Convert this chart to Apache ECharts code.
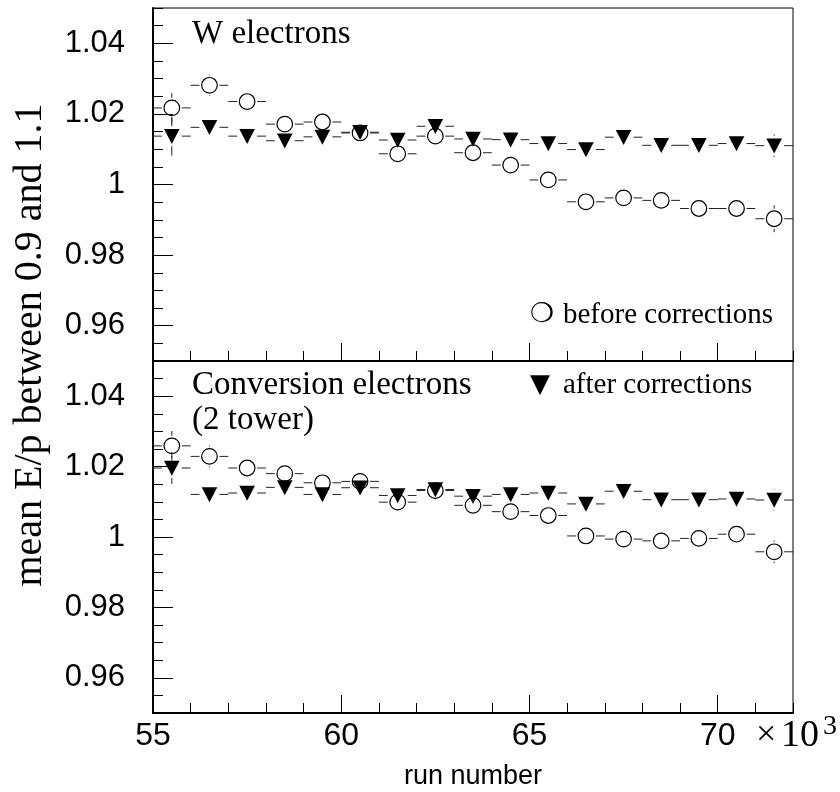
<!DOCTYPE html>
<html>
<head>
<meta charset="utf-8">
<script src="https://cdn.jsdelivr.net/npm/echarts@6/dist/echarts.min.js"></script>
<style>
  html, body { margin: 0; padding: 0; background: #fff; }
  #chart { width: 840px; height: 792px; }
</style>
</head>
<body>
<div id="chart"></div>
<script>
// run number bins (x 10^3), centre of each bin
const runBins = [55.5, 56.5, 57.5, 58.5, 59.5, 60.5, 61.5, 62.5, 63.5, 64.5, 65.5, 66.5, 67.5, 68.5, 69.5, 70.5, 71.5];
const binHalfWidth = 0.5;

// W electrons
const wBefore = [1.0217, 1.0281, 1.0235, 1.0171, 1.0177, 1.0146, 1.0087, 1.0137, 1.0090, 1.0055, 1.0013, 0.9951, 0.9962, 0.9955, 0.9932, 0.9932, 0.9903];
const wBeforeErr = [0.0042, 0.0030, 0.0024, 0.0022, 0.0022, 0.0022, 0.0022, 0.0022, 0.0022, 0.0022, 0.0022, 0.0022, 0.0022, 0.0022, 0.0024, 0.0024, 0.0038];
const wAfter = [1.0137, 1.0162, 1.0137, 1.0124, 1.0135, 1.0148, 1.0126, 1.0165, 1.0129, 1.0127, 1.0116, 1.0099, 1.0134, 1.0111, 1.0111, 1.0116, 1.0110];
const wAfterErr = [0.0055, 0.0024, 0.0022, 0.0022, 0.0022, 0.0022, 0.0022, 0.0022, 0.0022, 0.0022, 0.0022, 0.0022, 0.0022, 0.0022, 0.0022, 0.0024, 0.0032];

// conversion electrons (2 tower)
const convBefore = [1.0259, 1.0229, 1.0196, 1.0180, 1.0154, 1.0158, 1.0099, 1.0132, 1.0090, 1.0072, 1.0061, 1.0003, 0.9994, 0.9989, 0.9996, 1.0008, 0.9958];
const convBeforeErr = [0.0042, 0.0031, 0.0022, 0.0022, 0.0022, 0.0022, 0.0022, 0.0022, 0.0022, 0.0022, 0.0022, 0.0022, 0.0022, 0.0022, 0.0022, 0.0024, 0.0032];
const convAfter = [1.0196, 1.0121, 1.0125, 1.0141, 1.0121, 1.0140, 1.0118, 1.0135, 1.0116, 1.0121, 1.0125, 1.0094, 1.0130, 1.0106, 1.0106, 1.0108, 1.0105];
const convAfterErr = [0.0045, 0.0022, 0.0022, 0.0022, 0.0022, 0.0022, 0.0022, 0.0022, 0.0022, 0.0022, 0.0022, 0.0022, 0.0022, 0.0022, 0.0022, 0.0022, 0.0030];

// axes
const xMin = 55, xMax = 72;
const xTickValues = [55, 60, 65, 70];
const yMin = 0.95, yMax = 1.05;
const yTickValues = [0.96, 0.98, 1, 1.02, 1.04];

const SANS = '"Liberation Sans", Arial, Helvetica, sans-serif';
const SERIF = '"Liberation Serif", "Times New Roman", serif';
const SYM = '"DejaVu Sans", sans-serif';

const chart = echarts.init(document.getElementById('chart'));

function toPoints(vals, errs) {
  return runBins.map((x, i) => [x, vals[i], errs[i]]);
}

// error bars with a gap round the marker, then the marker itself
function errorItem(marker) {
  return function (params, api) {
    const x = api.value(0), y = api.value(1), e = api.value(2);
    const c = api.coord([x, y]);
    const left = api.coord([x - binHalfWidth, y])[0];
    const right = api.coord([x + binHalfWidth, y])[0];
    const top = api.coord([x, y + e])[1];
    const bot = api.coord([x, y - e])[1];
    const gap = 10;
    const ls = { stroke: '#222', lineWidth: 1 };
    const kids = [];
    if (c[0] - gap > left) kids.push({ type: 'line', shape: { x1: left, y1: c[1], x2: c[0] - gap, y2: c[1] }, style: ls });
    if (c[0] + gap < right) kids.push({ type: 'line', shape: { x1: c[0] + gap, y1: c[1], x2: right, y2: c[1] }, style: ls });
    if (c[1] - gap > top) kids.push({ type: 'line', shape: { x1: c[0], y1: top, x2: c[0], y2: c[1] - gap }, style: ls });
    if (c[1] + gap < bot) kids.push({ type: 'line', shape: { x1: c[0], y1: c[1] + gap, x2: c[0], y2: bot }, style: ls });
    if (marker === 'circle') {
      kids.push({ type: 'circle', shape: { cx: c[0], cy: c[1], r: 7.8 }, style: { fill: 'none', stroke: '#000', lineWidth: 1.2 } });
    } else {
      kids.push({
        type: 'polygon',
        shape: { points: [[c[0] - 7.8, c[1] - 7.2], [c[0] + 7.8, c[1] - 7.2], [c[0], c[1] + 7.8]] },
        style: { fill: '#000' }
      });
    }
    return { type: 'group', children: kids };
  };
}

function majorX(gridIndex, withLabels) {
  return {
    type: 'value', gridIndex, min: xMin, max: xMax, position: 'bottom',
    axisLine: { show: true, lineStyle: { color: '#000', width: 2 } },
    axisTick: { show: true, inside: true, length: 18, customValues: xTickValues, lineStyle: { color: '#000', width: 1 } },
    axisLabel: withLabels ? {
      show: true, customValues: xTickValues, margin: 7, color: '#000',
      fontFamily: SANS, fontSize: 32, lineHeight: 32
    } : { show: false },
    splitLine: { show: false },
    name: withLabels ? 'run number' : '',
    nameLocation: 'middle', nameGap: 50,
    nameTextStyle: { fontFamily: SANS, fontSize: 27, color: '#000', lineHeight: 27 }
  };
}
function minorX(gridIndex) {
  return {
    type: 'value', gridIndex, min: xMin, max: xMax, interval: 1, position: 'bottom',
    axisLine: { show: false },
    axisTick: { show: true, inside: true, length: 10, lineStyle: { color: '#000', width: 1 } },
    axisLabel: { show: false }, splitLine: { show: false }
  };
}
function majorY(gridIndex) {
  return {
    type: 'value', gridIndex, min: yMin, max: yMax, position: 'left',
    axisLine: { show: true, lineStyle: { color: '#000', width: 2 } },
    axisTick: { show: true, inside: true, length: 20, customValues: yTickValues, lineStyle: { color: '#000', width: 1 } },
    axisLabel: {
      show: true, customValues: yTickValues, margin: 28, color: '#000',
      fontFamily: SANS, fontSize: 31,
      formatter: v => String(+(+v).toFixed(2))
    },
    splitLine: { show: false }
  };
}
function minorY(gridIndex) {
  return {
    type: 'value', gridIndex, min: yMin, max: yMax, interval: 0.005, position: 'left',
    axisLine: { show: false },
    axisTick: { show: true, inside: true, length: 10, lineStyle: { color: '#000', width: 1 } },
    axisLabel: { show: false }, splitLine: { show: false }
  };
}

function txt(x, y, text, font, size, align, rotation) {
  return {
    type: 'text', x, y, silent: true, rotation: rotation || 0,
    style: {
      text, fontFamily: font, fontSize: size, fill: '#000',
      align: align || 'left', textAlign: align || 'left',
      verticalAlign: 'middle', textVerticalAlign: 'middle'
    }
  };
}

const option = {
  animation: false,
  backgroundColor: '#fff',
  grid: [
    { left: 153, top: 8, width: 640, height: 353, show: true, borderColor: '#000', borderWidth: 1, containLabel: false },
    { left: 153, top: 361, width: 640, height: 352, show: true, borderColor: '#000', borderWidth: 1, containLabel: false }
  ],
  xAxis: [majorX(0, false), minorX(0), majorX(1, true), minorX(1)],
  yAxis: [majorY(0), minorY(0), majorY(1), minorY(1)],
  series: [
    { type: 'custom', name: 'before corrections', xAxisIndex: 0, yAxisIndex: 0, renderItem: errorItem('circle'), encode: { x: 0, y: 1 }, data: toPoints(wBefore, wBeforeErr), z: 2 },
    { type: 'custom', name: 'after corrections', xAxisIndex: 0, yAxisIndex: 0, renderItem: errorItem('triangle'), encode: { x: 0, y: 1 }, data: toPoints(wAfter, wAfterErr), z: 3 },
    { type: 'custom', name: 'before corrections', xAxisIndex: 2, yAxisIndex: 2, renderItem: errorItem('circle'), encode: { x: 0, y: 1 }, data: toPoints(convBefore, convBeforeErr), z: 2 },
    { type: 'custom', name: 'after corrections', xAxisIndex: 2, yAxisIndex: 2, renderItem: errorItem('triangle'), encode: { x: 0, y: 1 }, data: toPoints(convAfter, convAfterErr), z: 3 }
  ],
  graphic: [
    txt(192, 34, 'W electrons', SERIF, 33),
    txt(192, 385, 'Conversion electrons', SERIF, 33),
    txt(192, 420, '(2 tower)', SERIF, 33),
    txt(530, 315, '\u274D', SYM, 27),
    txt(563, 315, 'before corrections', SERIF, 29),
    txt(530, 385, '\u25BC', SYM, 26),
    txt(563, 385, 'after corrections', SERIF, 29),
    txt(756, 736, '\u00D7', SERIF, 36),
    txt(781, 736, '10', SERIF, 38),
    txt(823, 727, '3', SERIF, 28),
    txt(30, 345, 'mean E/p between 0.9 and 1.1', SERIF, 40, 'center', Math.PI / 2)
  ]
};

chart.setOption(option);
</script>
</body>
</html>
